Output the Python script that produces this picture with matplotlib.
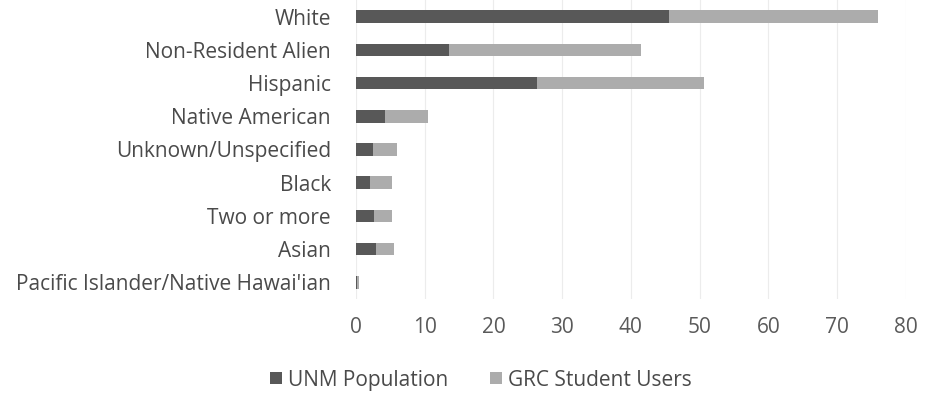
import matplotlib
matplotlib.use('Agg')
from matplotlib import pyplot as plt
import numpy as np

categories = ['White', 'Non-Resident Alien', 'Hispanic', 'Native American',
              'Unknown/Unspecified', 'Black', 'Two or more', 'Asian',
              "Pacific Islander/Native Hawai'ian"]
unm_population = [45.5, 13.5, 26.4, 4.2, 2.5, 2.1, 2.6, 3.0, 0.2]
grc_users = [30.5, 28.0, 24.2, 6.3, 3.5, 3.2, 2.7, 2.6, 0.2]
x_ticks = [0, 10, 20, 30, 40, 50, 60, 70, 80]

plt.rcParams['font.family'] = ['Open Sans', 'DejaVu Sans']
text_color = '#4a4a4a'
fs = 15

fig = plt.figure(figsize=(9.34, 3.98), dpi=100)
ax = fig.add_axes([0.381, 0.249, 0.589, 0.751])

y = np.arange(len(categories))
ax.barh(y, unm_population, height=0.38, color='#585858', label='UNM Population', zorder=3)
ax.barh(y, grc_users, left=unm_population, height=0.38, color='#acacac',
        label='GRC Student Users', zorder=3)

ax.set_ylim(len(categories) - 0.5, -0.5)
ax.set_xlim(0, 80)
ax.set_yticks(y)
ax.set_yticklabels(categories, fontsize=fs, color=text_color)
ax.set_xticks(x_ticks)
ax.set_xticklabels([str(t) for t in x_ticks], fontsize=fs, color='#5a5a5a')
ax.tick_params(axis='both', length=0)
ax.tick_params(axis='x', pad=13)
ax.tick_params(axis='y', pad=18)
ax.grid(axis='x', color='#ececec', linewidth=0.8, zorder=0)
for s in ax.spines.values():
    s.set_visible(False)

fig.legend(loc='center', bbox_to_anchor=(0.515, 0.045), ncol=2, frameon=False,
           fontsize=fs, handlelength=0.55, handleheight=0.55, handletextpad=0.3,
           columnspacing=2.0, labelcolor=text_color)

fig.savefig('out.png', dpi=100, facecolor='white')
